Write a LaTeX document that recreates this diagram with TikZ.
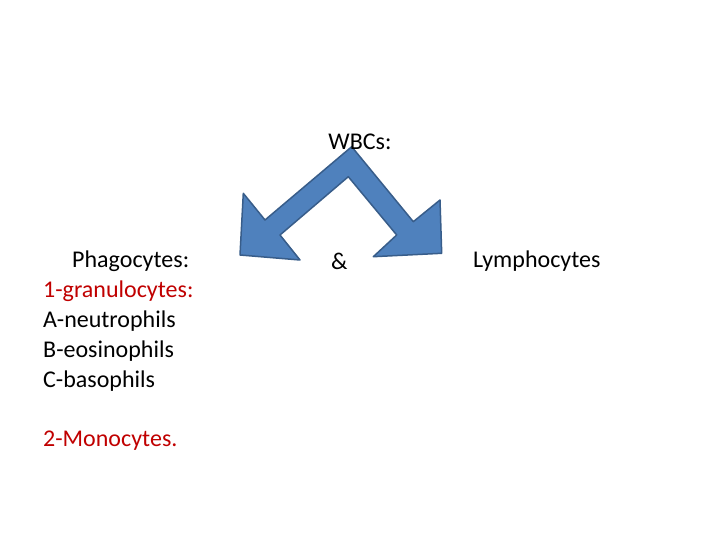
\documentclass[tikz,border=0pt]{standalone}
\usepackage{fontspec}
\setmainfont{Carlito}
\definecolor{arrfill}{RGB}{79,129,189}
\definecolor{arrline}{RGB}{56,93,138}
\definecolor{dred}{RGB}{192,0,0}
\begin{document}
\begin{tikzpicture}[x=1pt,y=-1pt,
  lbl/.style={font=\fontsize{24}{30}\selectfont,inner sep=0pt,anchor=west}]
\useasboundingbox (0,0) rectangle (720,540);
\draw[fill=arrfill,draw=arrline,line width=1.5pt,line join=round]
 (351.7,146.7) -- (413.3,221.7) -- (440,200) -- (441.7,253.3) -- (373.3,256.7)
 -- (396.7,235) -- (348.3,176.7) -- (280,235) -- (300,260) -- (240,255)
 -- (243.3,193.3) -- (265,220) -- cycle;
\node[lbl,anchor=center] (w) at (360,142) {WBCs:};
\node[lbl] (p) at (72,261) {Phagocytes:};
\node[lbl,text=dred] (g) at (43,291) {1-granulocytes:};
\node[lbl] (n) at (43,321) {A-neutrophils};
\node[lbl] (e) at (43,351) {B-eosinophils};
\node[lbl] (b) at (43,381) {C-basophils};
\node[lbl,text=dred] (m) at (43,441) {2-Monocytes.};
\node[lbl] (amp) at (331,261) {\&};
\node[lbl] (l) at (473,261) {Lymphocytes};
\end{tikzpicture}
\end{document}
